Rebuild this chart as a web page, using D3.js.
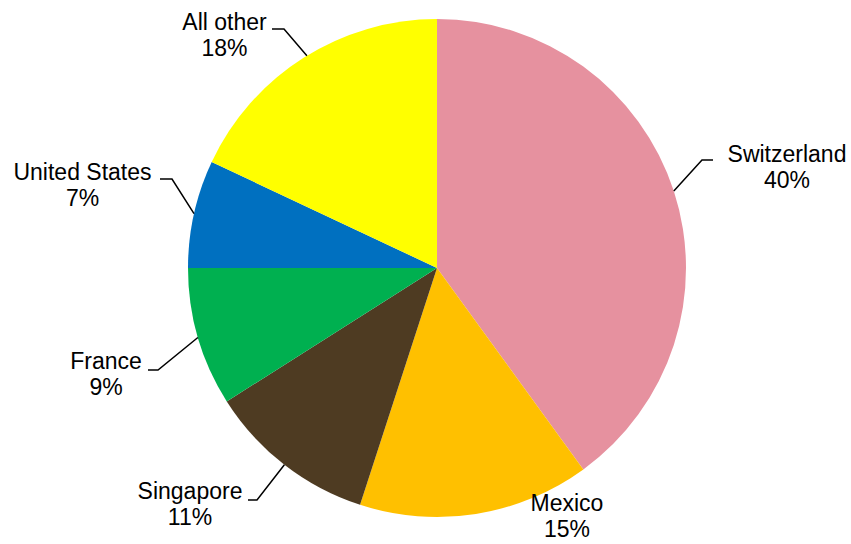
<!DOCTYPE html>
<html>
<head>
<meta charset="utf-8">
<script src="https://cdn.jsdelivr.net/npm/d3@7/dist/d3.min.js"></script>
<style>
  html, body { margin: 0; padding: 0; background: #ffffff; }
  svg { display: block; }
  text { font-family: "Liberation Sans", Arial, sans-serif; fill: #000; }
</style>
</head>
<body>
<svg id="chart" width="851" height="544"></svg>
<script>
// Share of total, by country
const categories = ["Switzerland", "Mexico", "Singapore", "France", "United States", "All other"];
const shares = [40, 15, 11, 9, 7, 18];
const sliceColors = ["#E6919F", "#FFC000", "#4E3B22", "#00B050", "#0070C0", "#FFFF00"];

// Label layout, relative to the pie centre: text centre/baseline, leader elbow,
// and which end the short horizontal tick points to.
const labelLayout = {
  "Switzerland":   { x: 350,    y: -106, elbow: [265, -108], tick: 11 },
  "Mexico":        { x: 130,    y: 243,  elbow: null },
  "Singapore":     { x: -247,   y: 231,  elbow: [-180, 232], tick: -9 },
  "France":        { x: -331,   y: 101,  elbow: [-279, 102], tick: -10 },
  "United States": { x: -354.5, y: -88,  elbow: [-265, -89], tick: -12 },
  "All other":     { x: -212.5, y: -238, elbow: [-153, -239], tick: -12, anchorDeg: 328.5 }
};

const width = 851, height = 544;
const cx = 437, cy = 268, radius = 249;
const lineGap = 26;

const svg = d3.select("#chart");
const g = svg.append("g").attr("transform", `translate(${cx},${cy})`);

const data = categories.map((name, i) => ({ name, value: shares[i], color: sliceColors[i] }));

const pie = d3.pie().value(d => d.value).sort(null).startAngle(0).endAngle(2 * Math.PI);
const arc = d3.arc().innerRadius(0).outerRadius(radius);
const arcs = pie(data);

g.selectAll("path.slice")
  .data(arcs)
  .join("path")
  .attr("class", "slice")
  .attr("d", arc)
  .attr("fill", d => d.data.color);

// Leader lines: from the slice edge to the elbow, then a short horizontal tick
const edgePoint = a => [radius * Math.sin(a), -radius * Math.cos(a)];

arcs.forEach(d => {
  const L = labelLayout[d.data.name];
  if (!L.elbow) return;
  const a = L.anchorDeg != null ? L.anchorDeg * Math.PI / 180 : (d.startAngle + d.endAngle) / 2;
  const p0 = edgePoint(a);
  const p1 = L.elbow;
  const p2 = [L.elbow[0] + L.tick, L.elbow[1]];
  g.append("path")
    .attr("d", d3.line()([p0, p1, p2]))
    .attr("fill", "none")
    .attr("stroke", "#000")
    .attr("stroke-width", 1.5);
});

// Labels: category name and percentage on two lines
const labels = g.selectAll("text.label")
  .data(arcs)
  .join("text")
  .attr("class", "label")
  .attr("text-anchor", "middle")
  .attr("font-size", 23)
  .attr("x", d => labelLayout[d.data.name].x)
  .attr("y", d => labelLayout[d.data.name].y);

labels.append("tspan")
  .attr("x", d => labelLayout[d.data.name].x)
  .text(d => d.data.name);
labels.append("tspan")
  .attr("x", d => labelLayout[d.data.name].x)
  .attr("dy", lineGap)
  .text(d => d.data.value + "%");
</script>
</body>
</html>
